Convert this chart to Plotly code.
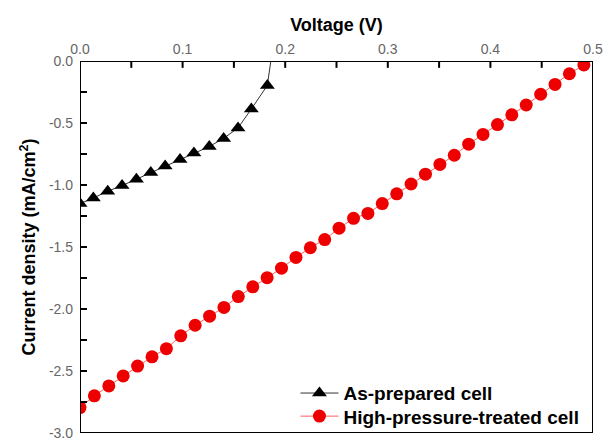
import plotly.graph_objects as go

# J-V curves: voltage (V) vs current density (mA/cm^2)
v_as_prepared = [0.0, 0.013, 0.027, 0.041, 0.055, 0.069, 0.083, 0.0975, 0.111,
                 0.126, 0.140, 0.154, 0.167, 0.1826, 0.1966]
j_as_prepared = [-1.15, -1.105, -1.05, -1.005, -0.953, -0.90, -0.847, -0.795, -0.742,
                 -0.69, -0.624, -0.54, -0.387, -0.197, 0.62]

v_treated = [round(i * 0.01403, 4) for i in range(36)]
j_treated = [-2.795, -2.70, -2.62, -2.54, -2.46, -2.386, -2.32, -2.216, -2.131,
             -2.058, -1.987, -1.900, -1.821, -1.747, -1.671, -1.584, -1.506, -1.44,
             -1.348, -1.269, -1.229, -1.150, -1.071, -0.992, -0.913, -0.834, -0.760,
             -0.671, -0.592, -0.513, -0.434, -0.355, -0.268, -0.189, -0.103, -0.032]

x_ticks = [0.0, 0.1, 0.2, 0.3, 0.4, 0.5]
x_minor = [0.05, 0.15, 0.25, 0.35, 0.45]
y_ticks = [0.0, -0.5, -1.0, -1.5, -2.0, -2.5, -3.0]
y_minor = [-0.25, -0.75, -1.25, -1.75, -2.25, -2.75]

x_range = [0.0, 0.5]
y_range = [-3.0, 0.0]

W, H = 610, 448
M = dict(l=80, r=17, t=61, b=7)
plot_w = W - M["l"] - M["r"]
plot_h = H - M["t"] - M["b"]
# pixel -> data unit factors for drawing the frame ticks
dx_px = (x_range[1] - x_range[0]) / plot_w
dy_px = (y_range[1] - y_range[0]) / plot_h
tick_len = 7

fig = go.Figure()
fig.add_trace(go.Scatter(
    x=v_as_prepared, y=j_as_prepared, mode="lines+markers",
    name="As-prepared cell", legend="legend",
    line=dict(color="#333333", width=1),
    marker=dict(symbol="triangle-up", size=13, color="black"),
))
fig.add_trace(go.Scatter(
    x=v_treated, y=j_treated, mode="lines+markers",
    name="High-pressure-treated cell", legend="legend2",
    line=dict(color="#ff6060", width=1),
    marker=dict(symbol="circle", size=13, color="#ee0000"),
))

# Frame box around the plotting area
fig.add_trace(go.Scatter(
    x=[x_range[0], x_range[1], x_range[1], x_range[0], x_range[0]],
    y=[y_range[0], y_range[0], y_range[1], y_range[1], y_range[0]],
    mode="lines", line=dict(color="black", width=2),
    showlegend=False, hoverinfo="skip", cliponaxis=False,
))

# Inward ticks on the top (voltage) and left (current density) edges
tx, ty = [], []
for v in x_ticks + x_minor:
    tx += [v, v, None]
    ty += [y_range[1], y_range[1] - tick_len * dy_px, None]
for j in y_ticks + y_minor:
    tx += [x_range[0], x_range[0] + tick_len * dx_px, None]
    ty += [j, j, None]
fig.add_trace(go.Scatter(
    x=tx, y=ty, mode="lines", line=dict(color="black", width=2),
    showlegend=False, hoverinfo="skip", cliponaxis=False,
))

tick_font = dict(family="Liberation Sans, Arial, sans-serif", size=14, color="#666666")
title_font = dict(family="Liberation Sans, Arial, sans-serif", size=18, color="black")

fig.update_xaxes(
    side="top", range=x_range, tickmode="array", tickvals=x_ticks,
    ticktext=[f"{t:.1f}" for t in x_ticks], ticks="", ticklabelstandoff=3,
    showline=False, showgrid=False, zeroline=False, tickfont=tick_font,
    title=dict(text="<b>Voltage (V)</b>", font=title_font, standoff=4),
)
fig.update_yaxes(
    range=y_range, tickmode="array", tickvals=y_ticks,
    ticktext=[f"{t:.1f}" for t in y_ticks], ticks="", ticklabelstandoff=6,
    showline=False, showgrid=False, zeroline=False, tickfont=tick_font,
    title=dict(text="<b>Current density (mA/cm<sup>2</sup>)</b>", font=title_font, standoff=8),
)

legend_font = dict(family="Liberation Sans, Arial, sans-serif", size=19, color="black",
                   weight="bold")
legend_common = dict(xanchor="left", yanchor="middle", bgcolor="rgba(0,0,0,0)",
                     itemwidth=38, font=legend_font)

fig.update_layout(
    width=W, height=H, margin=M,
    paper_bgcolor="white", plot_bgcolor="white",
    showlegend=True,
    legend=dict(x=0.42, y=0.107, **legend_common),
    legend2=dict(x=0.42, y=0.045, **legend_common),
)

fig.write_html("out.html")
